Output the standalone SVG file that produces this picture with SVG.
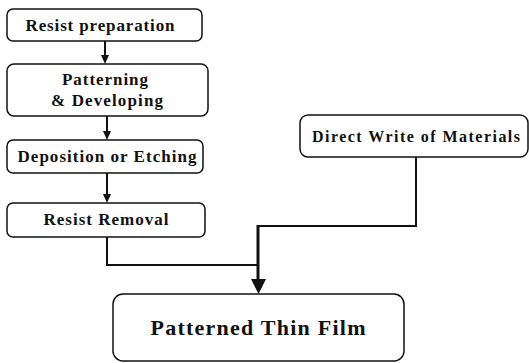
<svg xmlns="http://www.w3.org/2000/svg" width="529" height="363" viewBox="0 0 529 363">
<style>
.box{fill:#fff;stroke:#111;stroke-width:1.5}
.t{font-family:"Liberation Serif","Times New Roman",serif;font-weight:bold;fill:#111;text-anchor:middle}
.s{font-size:17px}
.l{font-size:22px}
.c{fill:none;stroke:#111;stroke-width:2}
.ct{fill:none;stroke:#111;stroke-width:3}
.ah{fill:#111}
</style>
<rect width="529" height="363" fill="#fff"/>
<g id="n1"><rect class="box" x="7" y="9" width="195" height="32" rx="6"/><text class="t s" x="100" y="31" textLength="149" lengthAdjust="spacing">Resist preparation</text></g>
<g id="n2"><rect class="box" x="7" y="64" width="201" height="52" rx="7"/><text class="t s" x="105" y="85" textLength="86" lengthAdjust="spacing">Patterning</text><text class="t s" x="107" y="106" textLength="112" lengthAdjust="spacing">&amp; Developing</text></g>
<g id="n3"><rect class="box" x="7" y="140" width="196" height="33" rx="6"/><text class="t s" x="107" y="162" textLength="179" lengthAdjust="spacing">Deposition or Etching</text></g>
<g id="n4"><rect class="box" x="7" y="203" width="198" height="34" rx="6"/><text class="t s" x="106" y="225" textLength="125" lengthAdjust="spacing">Resist Removal</text></g>
<g id="n5"><rect class="box" x="300" y="115" width="228" height="42" rx="8"/><text class="t" style="font-size:16px" x="416" y="142" textLength="208" lengthAdjust="spacing">Direct Write of Materials</text></g>
<g id="n6"><rect class="box" x="113" y="294" width="291" height="67" rx="10"/><text class="t l" x="258" y="335" textLength="215" lengthAdjust="spacing">Patterned Thin Film</text></g>
<g id="connectors">
<line class="c" x1="105" y1="41" x2="105" y2="56"/><path class="ah" d="M101,55 L109,55 L105,64 Z"/>
<line class="c" x1="107" y1="116" x2="107" y2="132"/><path class="ah" d="M103,131 L111,131 L107,140 Z"/>
<line class="c" x1="107" y1="173" x2="107" y2="195"/><path class="ah" d="M103,194 L111,194 L107,203 Z"/>
<polyline class="c" points="107,237 107,265 258,265"/>
<polyline class="c" points="416,157 416,226 257,226"/>
<line class="ct" x1="258" y1="225" x2="258" y2="281"/>
<path class="ah" d="M251,279 L266,279 L258.5,294 Z"/>
</g>
</svg>
